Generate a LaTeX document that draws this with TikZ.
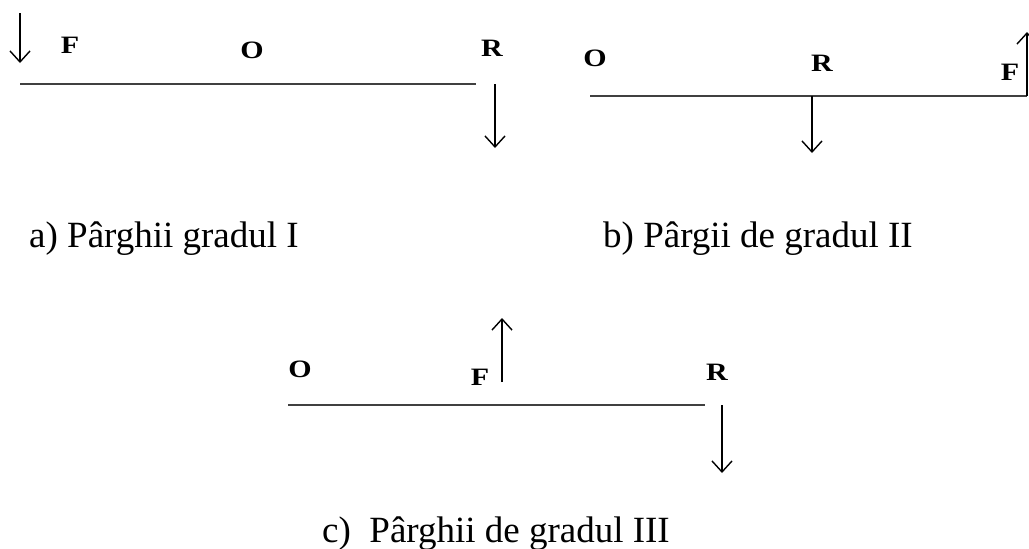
\documentclass[tikz,border=0pt]{standalone}
\usepackage{fontspec}
\setmainfont{Liberation Serif}
\usetikzlibrary{arrows.meta}

\begin{document}
\begin{tikzpicture}[
    x=1pt, y=-1pt,
    lever/.style={line width=1.7pt, black!75},
    force/.style={line width=1.4pt, -{Straight Barb[length=11pt,width=20pt,line width=1.4pt]}},
    point/.style={font=\fontsize{25}{27}\selectfont\bfseries\addfontfeature{FakeStretch=1.2}, inner sep=0pt},
    caption/.style={font=\fontsize{37}{40}\selectfont, anchor=base west, inner sep=0pt}
]
\useasboundingbox (0,0) rectangle (1029,549);

% a) Parghii gradul I
\node[point] (a_F) at (70,45) {F};
\node[point] (a_O) at (252,50) {O};
\node[point] (a_R) at (492,48) {R};
\coordinate (a_left) at (20,84);
\coordinate (a_right) at (476,84);
\coordinate (a_Ftop) at (20,13);
\coordinate (a_Fend) at (20,63);
\coordinate (a_Rtop) at (495,84);
\coordinate (a_Rend) at (495,148);
\draw[lever] (a_left) -- (a_right);
\draw[force] (a_Ftop) -- (a_Fend);
\draw[force] (a_Rtop) -- (a_Rend);
\node[caption] (a_cap) at (29,247) {a) Pârghii gradul I};

% b) Pargii de gradul II
\node[point] (b_O) at (595,58) {O};
\node[point] (b_R) at (822,63) {R};
\node[point] (b_F) at (1010,72) {F};
\coordinate (b_left) at (590,96);
\coordinate (b_right) at (1027,96);
\coordinate (b_Fend) at (1027,32);
\coordinate (b_Rtop) at (812,96);
\coordinate (b_Rend) at (812,153);
\draw[lever] (b_left) -- (b_right);
\draw[force] (b_right) -- (b_Fend);
\draw[force] (b_Rtop) -- (b_Rend);
\node[caption] (b_cap) at (603,247) {b) Pârgii de gradul II};

% c) Parghii de gradul III
\node[point] (c_O) at (300,369) {O};
\node[point] (c_F) at (480,377) {F};
\node[point] (c_R) at (717,372) {R};
\coordinate (c_left) at (288,405);
\coordinate (c_right) at (705,405);
\coordinate (c_Fbot) at (502,382);
\coordinate (c_Fend) at (502,318);
\coordinate (c_Rtop) at (722,405);
\coordinate (c_Rend) at (722,473);
\draw[lever] (c_left) -- (c_right);
\draw[force] (c_Fbot) -- (c_Fend);
\draw[force] (c_Rtop) -- (c_Rend);
\node[caption] (c_cap) at (322,542) {c)\ \ Pârghii de gradul III};

\end{tikzpicture}
\end{document}
